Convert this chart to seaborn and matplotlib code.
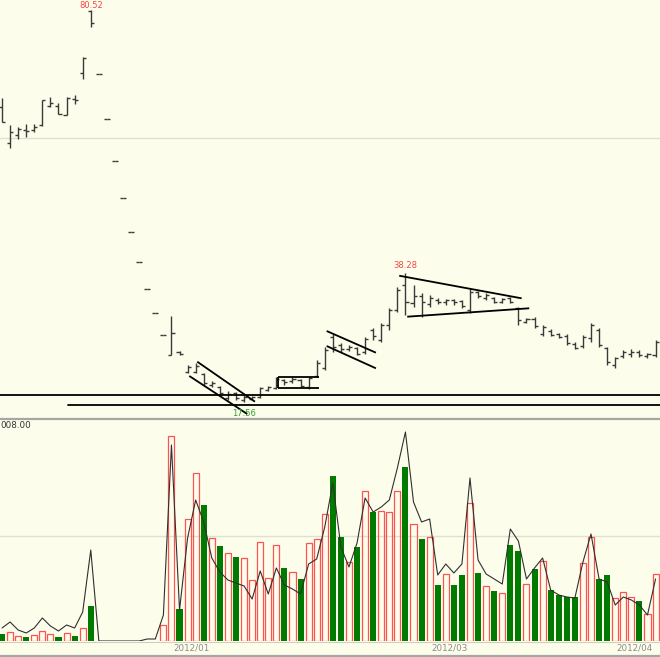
import numpy as np
import pandas as pd
import matplotlib
matplotlib.use("Agg")
import matplotlib.pyplot as plt
from matplotlib.lines import Line2D
import matplotlib.transforms as mtransforms
import seaborn as sns

# ---------- DATA (daily bars) ----------
OPEN = [64.95, 59.16, 60.45, 61.25, 61.25, 62.05, 65.11, 65.11, 63.66, 66.23,
        70.41, 80.40, 70.25, 63.02, 56.27, 50.33, 44.87, 40.05, 35.72, 31.86,
        28.33, 25.12, 25.60, 22.39, 22.39, 22.07, 20.30, 19.98, 18.21, 19.01,
        17.89, 18.05, 18.37, 19.50, 19.82, 21.10, 20.94, 21.10, 19.98, 21.74,
        23.03, 28.01, 26.72, 26.08, 26.24, 25.60, 29.13, 27.53, 29.93, 32.34,
        36.36, 33.47, 34.59, 33.31, 33.95, 33.63, 33.95, 33.79, 32.34, 35.24,
        34.27, 34.27, 33.63, 34.27, 32.66, 30.42, 30.90, 28.49, 28.97, 28.49,
        28.17, 26.88, 26.56, 27.85, 29.13, 26.24, 23.51, 24.95, 25.28, 25.60,
        24.95, 25.12]
HIGH = [66.39, 62.05, 61.73, 62.22, 62.22, 66.07, 66.55, 65.59, 66.55, 66.87,
        72.98, 80.52, 70.25, 63.02, 56.27, 50.33, 44.87, 40.05, 35.72, 31.86,
        28.33, 31.38, 25.76, 23.51, 23.83, 22.23, 20.94, 20.14, 19.34, 19.17,
        18.69, 18.53, 19.98, 20.14, 21.58, 21.26, 21.58, 21.26, 21.58, 24.31,
        26.40, 28.49, 27.04, 26.72, 26.40, 28.01, 29.45, 30.26, 32.67, 36.04,
        38.28, 36.36, 35.07, 34.75, 34.27, 34.11, 34.11, 33.95, 35.88, 35.40,
        35.07, 34.43, 34.27, 34.43, 32.82, 31.06, 31.22, 29.93, 29.29, 28.65,
        28.49, 27.21, 28.33, 30.26, 29.45, 26.40, 24.80, 25.92, 26.08, 25.92,
        25.44, 27.53]
LOW = [62.54, 58.36, 59.81, 60.13, 60.93, 61.89, 64.95, 63.82, 63.66, 65.43,
       69.44, 77.79, 70.25, 63.02, 56.27, 50.33, 44.87, 40.05, 35.72, 31.86,
       28.33, 25.12, 25.12, 22.23, 22.23, 20.30, 19.98, 18.69, 17.89, 17.89,
       17.56, 17.89, 18.21, 19.34, 19.66, 20.30, 20.62, 19.98, 19.66, 21.58,
       22.71, 25.60, 25.60, 25.76, 25.12, 25.28, 27.53, 27.21, 29.13, 32.02,
       31.54, 32.82, 31.22, 32.82, 33.31, 33.15, 33.15, 32.66, 31.86, 34.27,
       33.95, 33.47, 33.47, 33.47, 29.93, 30.26, 29.45, 28.17, 28.17, 27.85,
       26.72, 26.08, 26.24, 27.21, 26.40, 23.51, 23.03, 24.63, 24.80, 24.80,
       24.63, 24.80]
CLOSE = [62.54, 60.93, 61.41, 61.09, 61.73, 66.07, 65.59, 63.82, 66.39, 66.07,
         72.82, 78.44, 70.25, 63.02, 56.27, 50.33, 44.87, 40.05, 35.72, 31.86,
         28.33, 28.65, 25.28, 23.19, 23.35, 20.62, 20.62, 19.01, 18.85, 18.21,
         18.37, 18.37, 19.82, 19.98, 21.26, 20.78, 21.26, 20.14, 21.42, 23.83,
         25.92, 26.40, 26.08, 26.40, 25.28, 27.69, 28.17, 29.93, 32.34, 35.56,
         33.63, 34.59, 33.63, 34.27, 33.63, 33.95, 33.63, 32.98, 35.24, 34.59,
         34.75, 33.63, 34.11, 33.63, 30.74, 30.90, 29.77, 29.61, 28.33, 28.01,
         27.04, 26.24, 28.01, 29.93, 26.72, 23.99, 24.63, 25.60, 25.60, 25.12,
         25.28, 27.21]
VOLUME = [70, 90, 50, 40, 60, 100, 70, 40, 80, 50,
          130, 350, 0, 0, 0, 0, 0, 0, 0, 0,
          160, 2050, 320, 1220, 1680, 1360, 1030, 950, 880, 840,
          830, 610, 990, 630, 960, 730, 690, 620, 980, 1020,
          1270, 1650, 1040, 790, 940, 1500, 1290, 1300, 1290, 1500,
          1740, 1170, 1020, 1040, 560, 670, 560, 660, 1380, 680,
          550, 500, 480, 960, 900, 570, 720, 800, 510, 460,
          440, 440, 780, 1040, 620, 660, 430, 490, 440, 400,
          270, 670]
VOL_LINE = [130, 190, 110, 80, 130, 230, 150, 100, 160, 130,
            290, 910, 0, 0, 0, 0, 0, 0, 20, 20,
            260, 1960, 310, 1030, 1410, 1190, 830, 690, 610, 580,
            550, 420, 700, 470, 730, 560, 520, 470, 770, 820,
            1140, 1580, 940, 740, 980, 1430, 1290, 1340, 1410, 1730,
            2090, 1390, 1190, 1220, 660, 770, 680, 770, 1630, 810,
            670, 620, 570, 1120, 1000, 620, 730, 830, 510, 460,
            440, 430, 790, 1070, 620, 590, 360, 440, 410, 360,
            260, 620]

# month labels: (bar index, text)
MONTHS = [(21, "2012/01"), (53, "2012/03"), (76, "2012/04")]
# marked extremes: (bar index, price, colour, offset px)
MARKS = [(11, 80.52, "#F04848", 5), (50, 38.28, "#F04848", 8), (30, 17.56, "#30A030", -11)]

# hand-drawn trend lines: ((i0, p0), (i1, p1))
TRENDLINES = [
    ((24.20, 24.04), (31.35, 17.62)),  # channel upper
    ((23.21, 21.75), (30.40, 15.64)),  # channel lower
    ((34.24, 21.63), (39.32, 21.63)),  # box top
    ((34.24, 19.77), (39.32, 19.77)),  # box bottom
    ((34.24, 19.77), (34.24, 21.63)),  # box left side
    ((40.24, 28.97), (46.34, 25.49)),  # flag upper
    ((40.24, 26.56), (46.34, 22.98)),  # flag lower
    ((49.23, 37.85), (64.40, 34.22)),  # triangle top
    ((50.22, 31.27), (65.34, 32.62)),  # triangle bottom
]
# horizontal support lines: (price, start index)
SUPPORT = [(18.69, -0.5), (17.09, 8.18)]

# ---------- STYLE ----------
BG = "#FDFDEC"
BAR_C = "#3A3A3A"
RED = "#FF5252"
GREEN = "#007A00"
GRID = "#E0E0CF"

sns.set_theme(style="white")
plt.rcParams["font.family"] = ["DejaVu Sans"]

df = pd.DataFrame({"i": np.arange(len(OPEN)), "open": OPEN, "high": HIGH,
                   "low": LOW, "close": CLOSE, "vol": VOLUME, "vline": VOL_LINE})
df["up"] = df["close"] >= df["open"]

H = 657.0
def band(top, bottom):
    return [0, 1 - bottom / H, 1, (bottom - top) / H]

fig = plt.figure(figsize=(6.6, 6.57), dpi=100, facecolor=BG)
ax = fig.add_axes(band(0, 418))
axv = fig.add_axes(band(419, 641))
XLIM = (-0.25, 81.55)

# ---------- PRICE PANEL ----------
ax.axhline(60, color=GRID, lw=1, zorder=0)
ax.vlines(df["i"], df["low"], df["high"], color=BAR_C, lw=1)
ax.hlines(df["open"], df["i"] - 0.38, df["i"], color=BAR_C, lw=1)
ax.hlines(df["close"], df["i"], df["i"] + 0.38, color=BAR_C, lw=1)

for (x0, y0), (x1, y1) in TRENDLINES:
    ax.plot([x0, x1], [y0, y1], color="black", lw=1.3, solid_capstyle="butt")
for p, start in SUPPORT:
    ax.plot([start, XLIM[1] + 1], [p, p], color="black", lw=1.3)

for i, p, c, off in MARKS:
    ax.annotate(f"{p:.2f}", (i, p), xytext=(0, off), textcoords="offset pixels",
                ha="center", va="center", fontsize=6.0, color=c)

ax.set_xlim(XLIM)
ax.set_ylim(15.0, 82.13)

# ---------- VOLUME PANEL ----------
axv.axhline(1050, color=GRID, lw=1, zorder=0)
up = df[df["up"] & (df["vol"] > 0)]
dn = df[~df["up"] & (df["vol"] > 0)]
sns.barplot(data=up, x="i", y="vol", native_scale=True, fill=False, color=RED,
            saturation=1, width=0.75, linewidth=0.9, errorbar=None, ax=axv)
sns.barplot(data=dn, x="i", y="vol", native_scale=True, color=GREEN,
            saturation=1, width=0.75, linewidth=0, errorbar=None, ax=axv)
sns.lineplot(data=df, x="i", y="vline", color="#303030", linewidth=0.8, ax=axv)

axv.set_xlim(XLIM)
axv.set_ylim(0, 2220)

trans = mtransforms.blended_transform_factory(axv.transData, axv.transAxes)
for i, lab in MONTHS:
    axv.text(i + 0.2, -0.032, lab, transform=trans, ha="left", va="center",
             fontsize=6.3, color="#8C8C8C", clip_on=False)
fig.text(0.0, 1 - 426 / H, "008.00", ha="left", va="center", fontsize=6.3, color="#333333")

for a in (ax, axv):
    a.set_facecolor(BG)
    a.set_xticks([])
    a.set_yticks([])
    a.set_xlabel("")
    a.set_ylabel("")
    for s in a.spines.values():
        s.set_visible(False)

# panel borders
for y, c, w in [(418.5, "#A6A6A6", 1.6), (641.5, "#CFCFC0", 0.8), (655.5, "#A6A6A6", 1.6)]:
    fig.add_artist(Line2D([0, 1], [1 - y / H] * 2, color=c, lw=w))

fig.savefig("out.png", dpi=100, facecolor=BG)
